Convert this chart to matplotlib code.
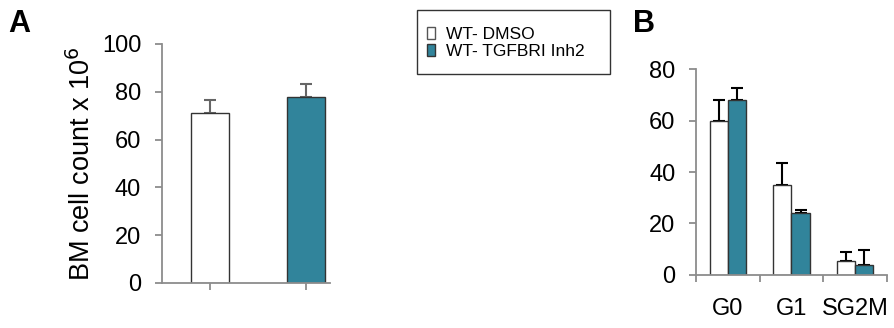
import matplotlib.pyplot as plt
from matplotlib.patches import Patch, Rectangle

plt.rcParams['font.family'] = ['Liberation Sans', 'DejaVu Sans']

# panel A data
groups_a = ['WT- DMSO', 'WT- TGFBRI Inh2']
counts_a = [71.3, 77.7]
err_a = [5.3, 5.6]

# panel B data
phases = ['G0', 'G1', 'SG2M']
dmso_b = [59.7, 34.8, 5.3]
dmso_err_b = [8.3, 8.8, 3.7]
inh_b = [68.0, 24.1, 3.6]
inh_err_b = [4.8, 1.0, 6.0]

teal = '#31849b'
spine_col = '#8c8c8c'

fig = plt.figure(figsize=(8.95, 3.28), dpi=100)

# ---- panel A
ax1 = fig.add_axes([0.181, 0.1372, 0.1877, 0.7287])
xa = [0, 1]
ax1.bar(xa, counts_a, width=0.396, color=['white', teal], edgecolor='#333333', linewidth=1, zorder=2)
ax1.errorbar(xa, counts_a, yerr=[[0, 0], err_a], fmt='none', ecolor='#666666',
             elinewidth=1.5, capsize=4.3, capthick=1.5, zorder=1)
ax1.set_xlim(-0.5, 1.25)
ax1.set_ylim(0, 100)
ax1.set_yticks([0, 20, 40, 60, 80, 100])
ax1.set_xticks(xa)
ax1.set_xticklabels(['', ''])
ax1.set_ylabel('BM cell count x 10$^6$', fontsize=19.5, labelpad=4)

# ---- panel B
ax2 = fig.add_axes([0.778, 0.1625, 0.2127, 0.6262])
xb = list(range(len(phases)))
w = 0.29
xl = [x - w / 2 for x in xb]
xr = [x + w / 2 for x in xb]
ax2.bar(xl, dmso_b, width=w, color='white', edgecolor='#333333', linewidth=1, zorder=2)
ax2.bar(xr, inh_b, width=w, color=teal, edgecolor='#333333', linewidth=1, zorder=2)
ax2.errorbar(xl, dmso_b, yerr=[[0] * 3, dmso_err_b], fmt='none', ecolor='black',
             elinewidth=1.5, capsize=4.3, capthick=1.5, zorder=1)
ax2.errorbar(xr, inh_b, yerr=[[0] * 3, inh_err_b], fmt='none', ecolor='black',
             elinewidth=1.5, capsize=4.3, capthick=1.5, zorder=1)
ax2.set_xlim(-0.5, 2.5)
ax2.set_ylim(0, 80)
ax2.set_yticks([0, 20, 40, 60, 80])
ax2.set_xticks([-0.5, 0.5, 1.5, 2.5])
ax2.set_xticklabels([])
ax2.set_xticks(xb, minor=True)
ax2.set_xticklabels(phases, minor=True)
ax2.tick_params(axis='x', which='minor', length=0, pad=17)

for ax in (ax1, ax2):
    for s in ('top', 'right'):
        ax.spines[s].set_visible(False)
    for s in ('left', 'bottom'):
        ax.spines[s].set_color(spine_col)
        ax.spines[s].set_linewidth(1.3)
    ax.tick_params(axis='both', which='major', color=spine_col, width=1.3, length=5, labelsize=17)
    ax.tick_params(axis='y', pad=10)
    ax.tick_params(axis='x', which='minor', labelsize=17)

# legend with box
fig.patches.append(Rectangle((0.4656, 0.7744), 0.216, 0.1951, transform=fig.transFigure,
                             fill=False, edgecolor='#333333', linewidth=1))
handles = [Patch(facecolor='white', edgecolor='#555555', label=groups_a[0]),
           Patch(facecolor=teal, edgecolor='#333333', label=groups_a[1])]
fig.legend(handles=handles, loc='upper left', bbox_to_anchor=(0.463, 0.955), frameon=False,
           fontsize=12.5, handlelength=0.5, handleheight=0.7, handletextpad=0.6,
           labelspacing=0.1, borderpad=0.2)

fig.text(0.009, 0.902, 'A', fontsize=22, fontweight='bold')
fig.text(0.707, 0.902, 'B', fontsize=22, fontweight='bold')

fig.savefig('out.png', dpi=100)
